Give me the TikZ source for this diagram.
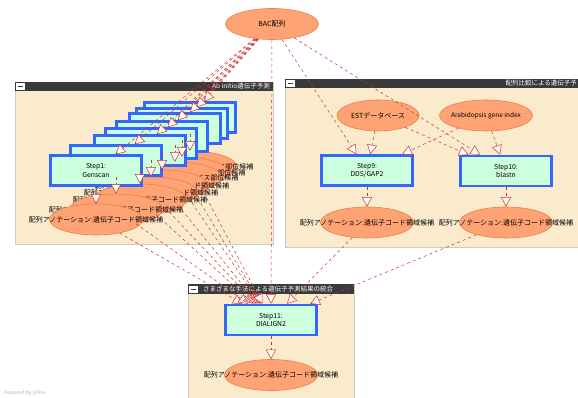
\documentclass[tikz,border=0pt]{standalone}
\usepackage{fontspec}
\setmainfont{Noto Sans CJK JP}
\usetikzlibrary{shapes.geometric,arrows.meta}
\definecolor{panelbg}{HTML}{FAEBCD}
\definecolor{panelhead}{HTML}{3A3A3A}
\definecolor{stepfill}{HTML}{CCFFDD}
\definecolor{stepline}{HTML}{3366FF}
\definecolor{ovalfill}{HTML}{FFA375}
\definecolor{ovalline}{HTML}{E8804A}
\definecolor{edgered}{HTML}{D03030}

\begin{document}
\begin{tikzpicture}[x=1pt,y=-1pt,
    stepbox/.style={draw=stepline,fill=stepfill,line width=2.5pt,minimum width=91pt,minimum height=30pt,
      font=\fontsize{6.8}{8.5}\selectfont,align=center},
    oval/.style={ellipse,draw=ovalline,fill=ovalfill,line width=0.6pt,minimum width=93pt,minimum height=31pt,inner sep=0pt},
    every label/.style={font=\fontsize{7}{8}\selectfont,inner sep=0pt},
    flow/.style={draw=edgered,dashed,line width=0.5pt,-{Triangle[length=9.5pt,width=10pt,fill=white]}},
    panel/.style={fill=panelbg,draw=black!20,line width=0.6pt},
    panelbar/.style={fill=panelhead},
    bartext/.style={text=white,font=\fontsize{6.5}{7}\selectfont,inner sep=0pt}]
  \useasboundingbox (0,0) rectangle (578,398);

  % groups
  \draw[panel] (15,82) rectangle (273,244);
  \fill[panelbar] (15,82) rectangle (273,91);
  \draw[panel] (285,79) rectangle (578,247);
  \fill[panelbar] (285,79) rectangle (578,88);
  \draw[panel] (188,284) rectangle (354,400);
  \fill[panelbar] (188,284) rectangle (354,294);
  \foreach \x/\y in {16/83, 286/80, 189/285} {
    \fill[white] (\x,\y+0.5) rectangle (\x+9,\y+7.5);
    \draw[panelhead,line width=1pt] (\x+2,\y+4) -- (\x+7,\y+4);
  }
  \node[bartext,anchor=east] (t1) at (270,86.5) {Ab initio遺伝子予測};
  \node[bartext,anchor=east] (t2) at (577,83.5) {配列比較による遺伝子予};
  \node[bartext,anchor=west] (t3) at (203,289) {さまざまな手法による遺伝子予測結果の統合};

  \node[oval,minimum width=93pt,label={center:BAC配列}] (bac) at (272,24) {};

  % ab initio stack
  \foreach \i/\x/\y/\t in {8/190/117.5/スプライス部位候補, 7/182/123.5/スプライス部位候補,
      6/175/128.5/スプライス部位候補, 5/162/136.5/遺伝子コード領域候補, 4/151/143.5/遺伝子コード領域候補,
      3/140/150.5/遺伝子コード領域候補, 2/116/160.5/遺伝子コード領域候補, 1/96/170.5/遺伝子コード領域候補}
    \node[oval,label={center:{配列アノテーション:\t}}] (r\i) at (\x,\y+49) {};
  \foreach \i/\x/\y in {8/190/117.5, 7/182/123.5, 6/175/128.5, 5/162/136.5,
      4/151/143.5, 3/140/150.5, 2/116/160.5}
    \node[stepbox] (s\i) at (\x,\y) {};
  \node[stepbox] (s1) at (96,170.5) {Step1:\\Genscan};

  % sequence comparison
  \node[oval,minimum width=82pt,label={center:ESTデータベース}] (est) at (378,115.5) {};
  \node[oval,label={[font=\fontsize{6.5}{8}\selectfont]center:Arabidopsis gene index}] (ara) at (486,115.5) {};
  \node[stepbox] (s9) at (367,170.5) {Step9:\\DDS/GAP2};
  \node[stepbox] (s10) at (506,171) {Step10:\\blastn};
  \node[oval,label={center:{配列アノテーション:遺伝子コード領域候補}}] (r9) at (367,222.5) {};
  \node[oval,label={center:{配列アノテーション:遺伝子コード領域候補}}] (r10) at (506,222.5) {};

  % integration
  \node[stepbox] (s11) at (271,320) {Step11:\\DIALIGN2};
  \node[oval,label={center:{配列アノテーション:遺伝子コード領域候補}}] (r11) at (271,375) {};

  \node[anchor=west,text=black!30,font=\fontsize{5}{6}\selectfont,inner sep=0pt] (yf) at (4,393) {Powered by yFiles};

  % edges
  \foreach \i in {1,...,8} {
    \draw[flow] (bac) -- (s\i);
    \draw[flow] (s\i) -- (r\i);
    \draw[flow] (r\i) -- (s11);
  }
  \draw[flow] (bac) -- (s9);
  \draw[flow] (bac) -- (s10);
  \draw[flow] (bac) -- (s11);
  \draw[flow] (est) -- (s9);
  \draw[flow] (est) -- (s10);
  \draw[flow] (ara) -- (s9);
  \draw[flow] (ara) -- (s10);
  \draw[flow] (s9) -- (r9);
  \draw[flow] (s10) -- (r10);
  \draw[flow] (r9) -- (s11);
  \draw[flow] (r10) -- (s11);
  \draw[flow] (s11) -- (r11);
\end{tikzpicture}
\end{document}
